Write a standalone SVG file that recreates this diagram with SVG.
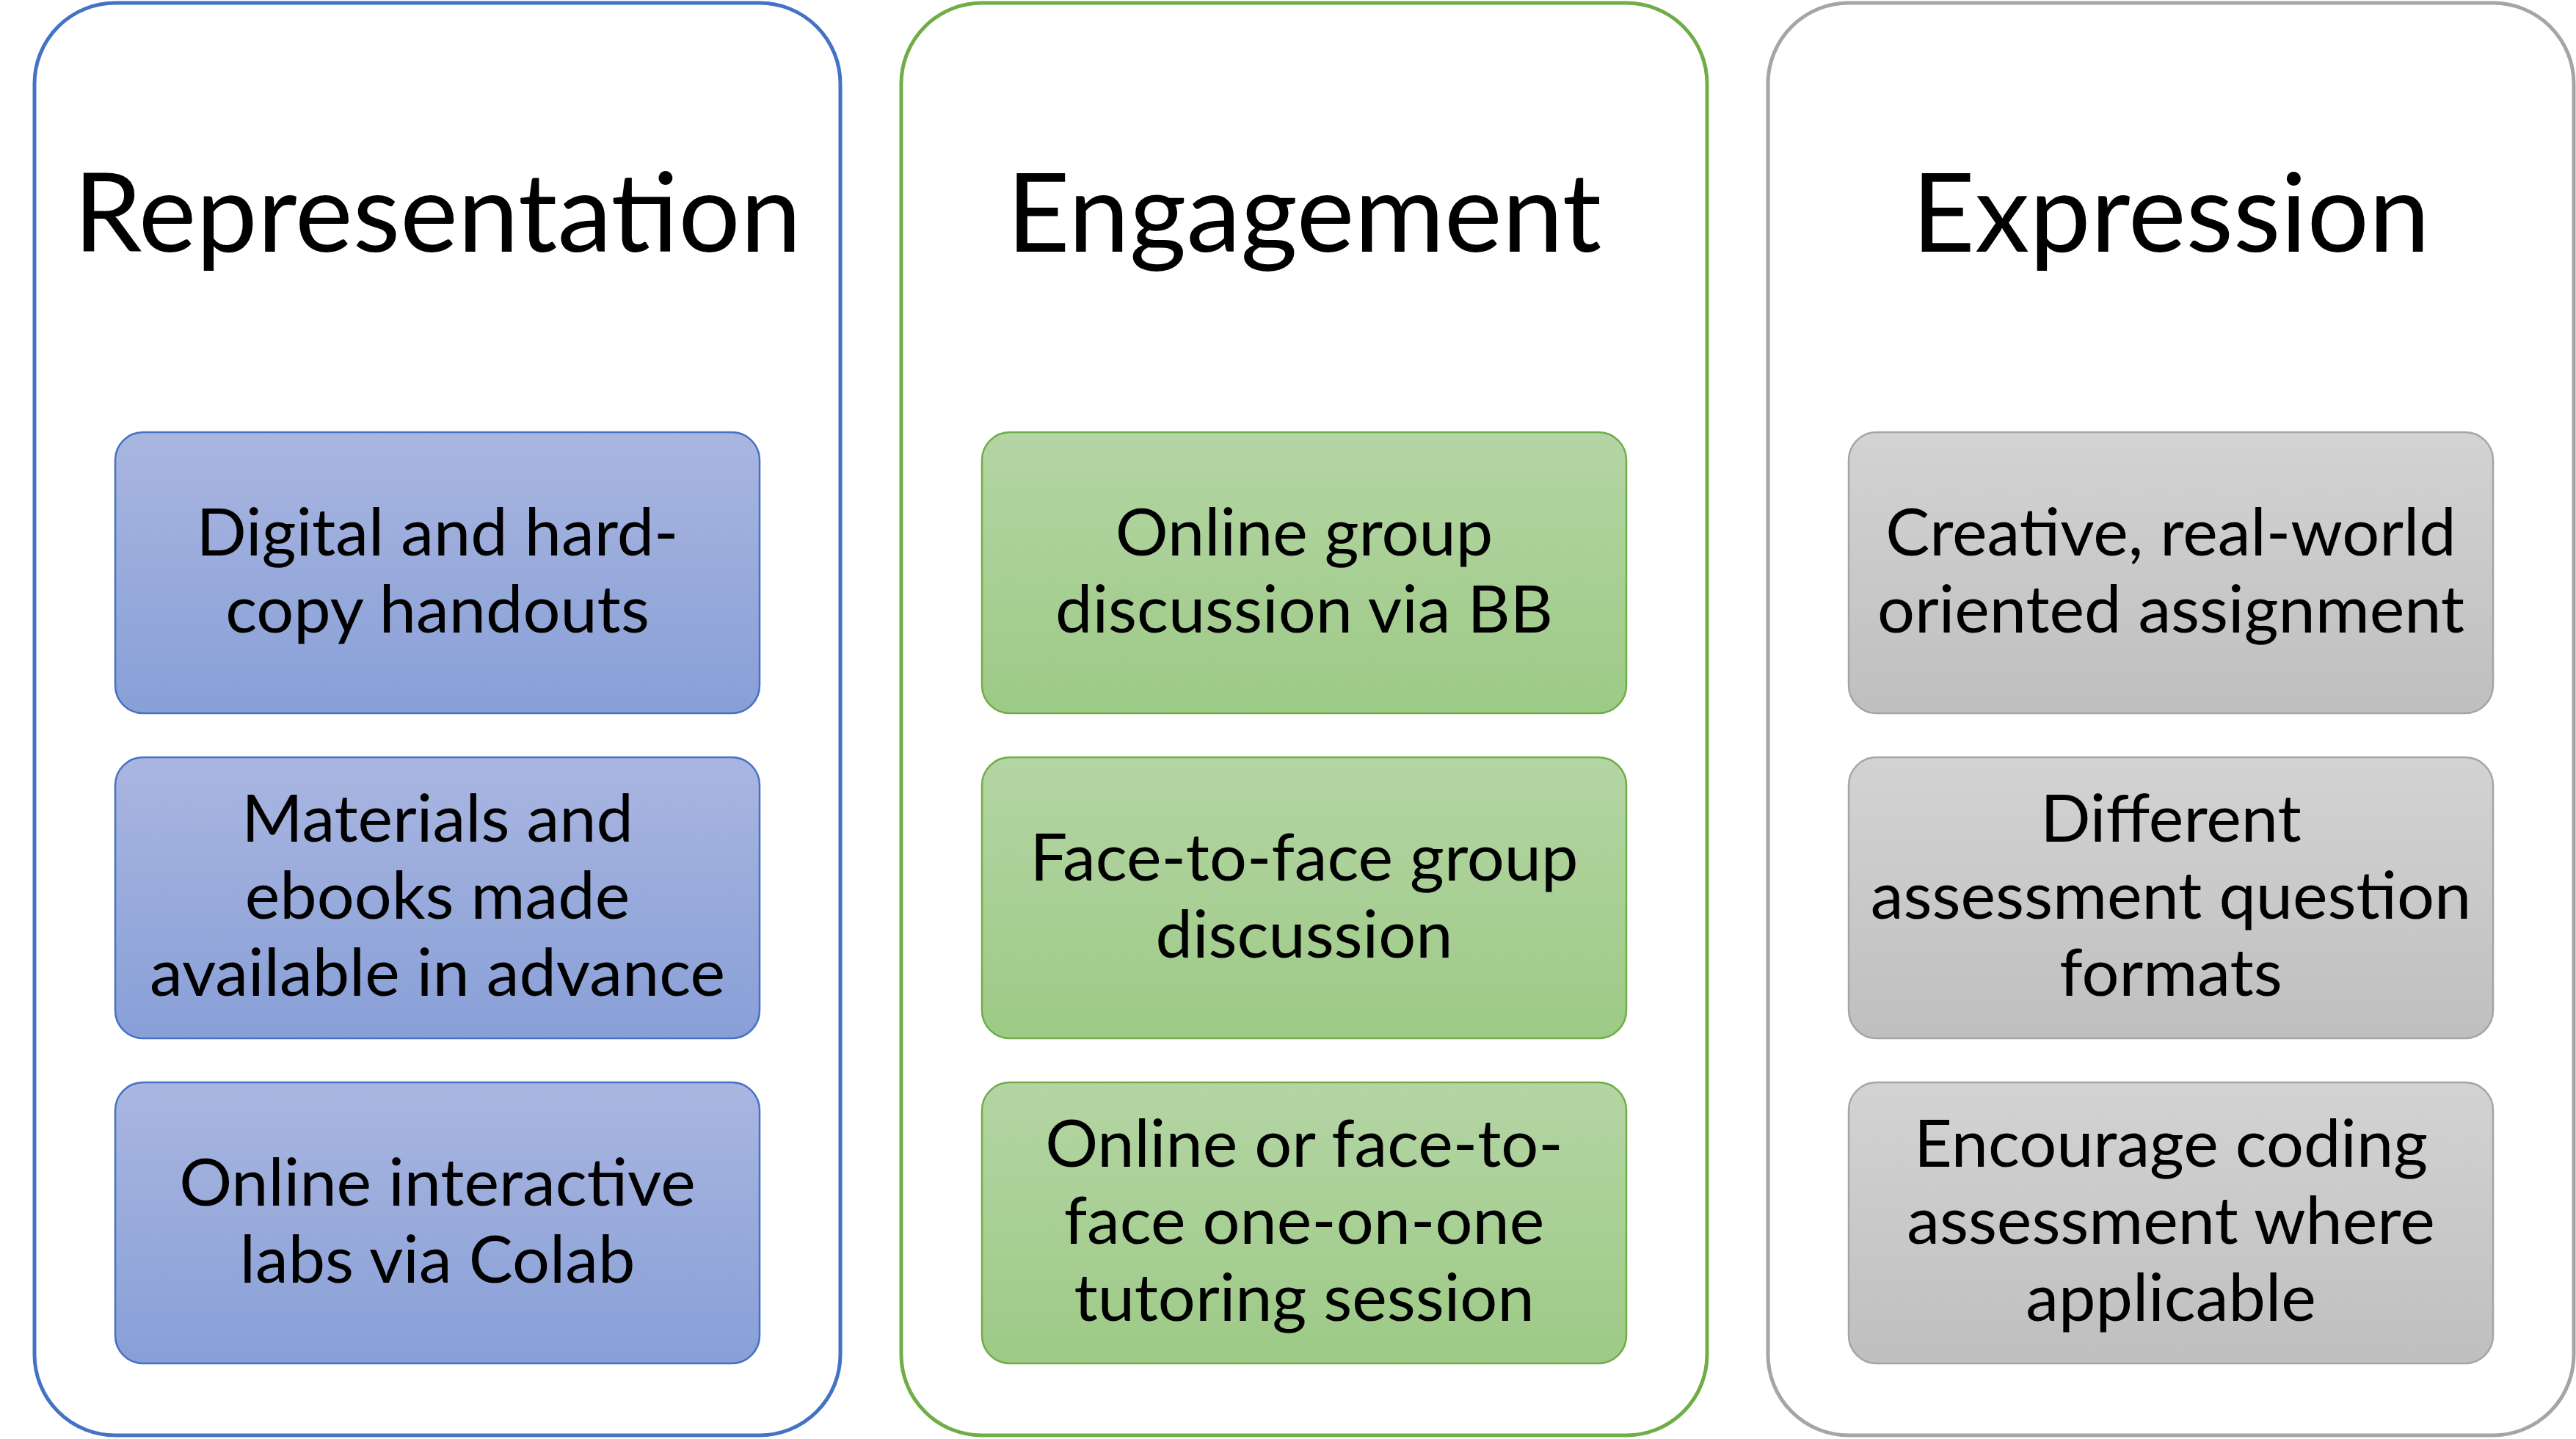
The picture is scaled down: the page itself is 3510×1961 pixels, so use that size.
<svg xmlns="http://www.w3.org/2000/svg" width="3510" height="1961" viewBox="0 0 3510 1961">
<defs>
<linearGradient id="gBlue" x1="0" y1="0" x2="0" y2="1"><stop offset="0" stop-color="#A9B6E0"/><stop offset="1" stop-color="#889FD7"/></linearGradient>
<linearGradient id="gGreen" x1="0" y1="0" x2="0" y2="1"><stop offset="0" stop-color="#B4D5A4"/><stop offset="1" stop-color="#9DCA86"/></linearGradient>
<linearGradient id="gGray" x1="0" y1="0" x2="0" y2="1"><stop offset="0" stop-color="#D3D3D3"/><stop offset="1" stop-color="#BFBFBF"/></linearGradient>
</defs>
<style>
.outer{fill:#FFFFFF;stroke-width:5}
.inner{stroke-width:2.5}
.title{font-family:Lato,"Open Sans",sans-serif;font-size:149px;fill:#000;text-anchor:middle}
.body{font-family:Lato,"Open Sans",sans-serif;font-size:90px;fill:#000;text-anchor:middle}
.blue .outer{stroke:#4472C4}
.blue .inner{stroke:#4472C4;fill:url(#gBlue)}
.green .outer{stroke:#70AD47}
.green .inner{stroke:#70AD47;fill:url(#gGreen)}
.gray .outer{stroke:#A5A5A5}
.gray .inner{stroke:#A5A5A5;fill:url(#gGray)}
</style>
<rect width="3510" height="1961" fill="#FFFFFF"/>
<g id="connectors"/>

<g class="blue">
<g id="representation"><rect class="outer" x="47" y="4" width="1098" height="1952" rx="110"/><text class="title" x="596" y="343">Representation</text></g>
<g id="r1"><rect class="inner" x="157" y="589" width="878" height="383" rx="38"/><text class="body" x="596" y="757">Digital and hard-</text><text class="body" x="596" y="862">copy handouts</text></g>
<g id="r2"><rect class="inner" x="157" y="1032" width="878" height="383" rx="38"/><text class="body" x="596" y="1147">Materials and</text><text class="body" x="596" y="1252">ebooks made</text><text class="body" x="596" y="1357">available in advance</text></g>
<g id="r3"><rect class="inner" x="157" y="1475" width="878" height="383" rx="38"/><text class="body" x="596" y="1643">Online interactive</text><text class="body" x="596" y="1748">labs via Colab</text></g>
</g>

<g class="green">
<g id="engagement"><rect class="outer" x="1228" y="4" width="1098" height="1952" rx="110"/><text class="title" x="1777" y="343">Engagement</text></g>
<g id="e1"><rect class="inner" x="1338" y="589" width="878" height="383" rx="38"/><text class="body" x="1777" y="757">Online group</text><text class="body" x="1777" y="862">discussion via BB</text></g>
<g id="e2"><rect class="inner" x="1338" y="1032" width="878" height="383" rx="38"/><text class="body" x="1777" y="1200">Face-to-face group</text><text class="body" x="1777" y="1305">discussion</text></g>
<g id="e3"><rect class="inner" x="1338" y="1475" width="878" height="383" rx="38"/><text class="body" x="1777" y="1590">Online or face-to-</text><text class="body" x="1777" y="1695">face one-on-one</text><text class="body" x="1777" y="1800">tutoring session</text></g>
</g>

<g class="gray">
<g id="expression"><rect class="outer" x="2409" y="4" width="1098" height="1952" rx="110"/><text class="title" x="2958" y="343">Expression</text></g>
<g id="x1"><rect class="inner" x="2519" y="589" width="878" height="383" rx="38"/><text class="body" x="2958" y="757">Creative, real-world</text><text class="body" x="2958" y="862">oriented assignment</text></g>
<g id="x2"><rect class="inner" x="2519" y="1032" width="878" height="383" rx="38"/><text class="body" x="2958" y="1147">Different</text><text class="body" x="2958" y="1252">assessment question</text><text class="body" x="2958" y="1357">formats</text></g>
<g id="x3"><rect class="inner" x="2519" y="1475" width="878" height="383" rx="38"/><text class="body" x="2958" y="1590">Encourage coding</text><text class="body" x="2958" y="1695">assessment where</text><text class="body" x="2958" y="1800">applicable</text></g>
</g>
</svg>
